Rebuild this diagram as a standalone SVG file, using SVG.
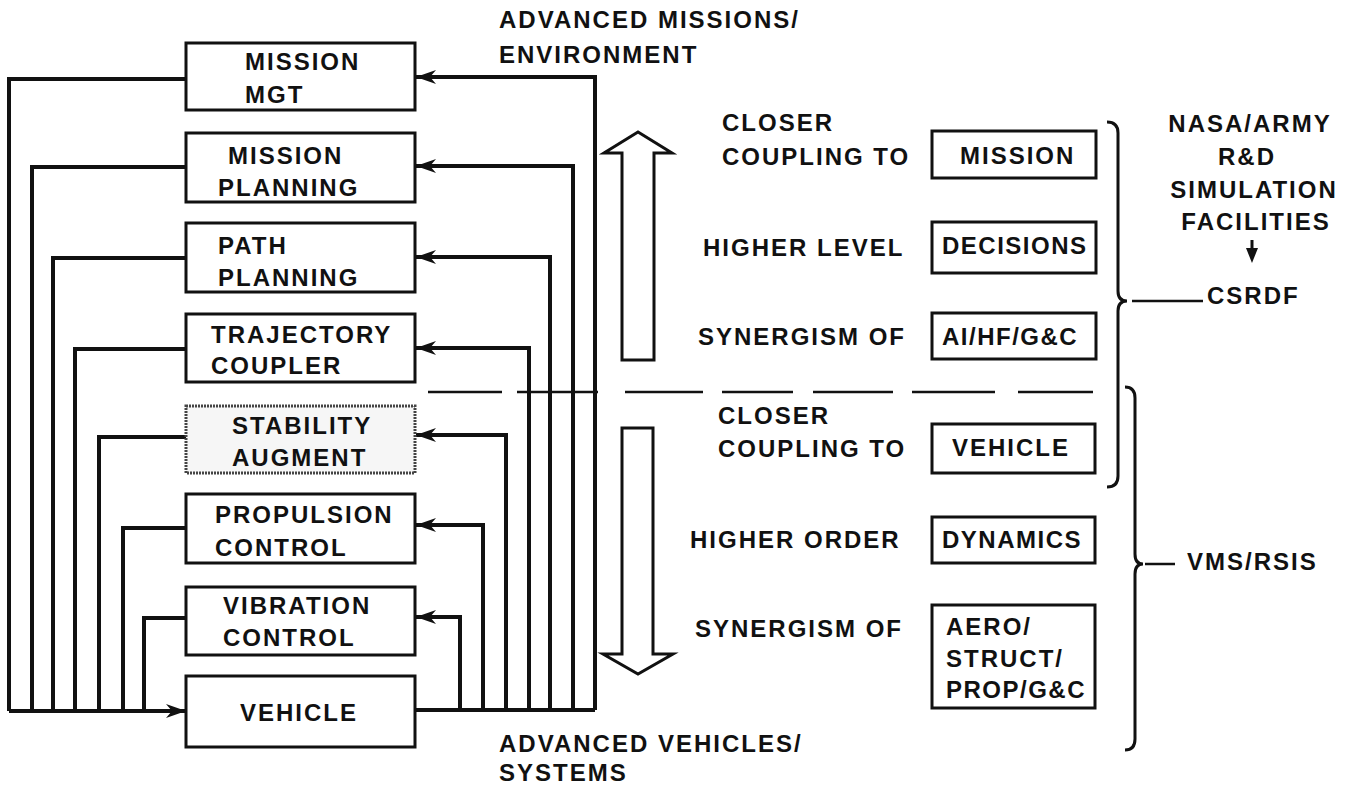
<svg xmlns="http://www.w3.org/2000/svg" width="1354" height="786" viewBox="0 0 1354 786">
<defs>
<style>
text{font-family:"Liberation Sans",Arial,sans-serif;font-weight:bold;font-size:24px;letter-spacing:2px;fill:#111}
.box{fill:#fff;stroke:#111;stroke-width:3}
.dotbox{fill:#f6f6f6;stroke:#444;stroke-width:3;stroke-dasharray:2 1}
.wire{fill:none;stroke:#111;stroke-width:4}
.thin{fill:none;stroke:#111;stroke-width:3}
.mid{text-anchor:middle}
</style>
<marker id="ah" markerUnits="userSpaceOnUse" markerWidth="22" markerHeight="18" refX="20" refY="9" orient="auto">
<path d="M0,2 L20,9 L0,16 L6,9 z" fill="#111"/>
</marker>
</defs>
<rect width="1354" height="786" fill="#fff"/>

<g id="connectors">
<path class="wire" d="M186,79 H9 V711"/>
<path class="wire" d="M186,167 H32 V711"/>
<path class="wire" d="M186,258 H53 V711"/>
<path class="wire" d="M186,349 H75 V711"/>
<path class="wire" d="M186,437 H99 V711"/>
<path class="wire" d="M186,528 H123 V711"/>
<path class="wire" d="M186,618 H144 V711"/>
<path class="wire" d="M9,711 H186" marker-end="url(#ah)"/>
<path class="wire" d="M415,710 H595"/>
<path class="wire" d="M595,710 V77 H416" marker-end="url(#ah)"/>
<path class="wire" d="M573,710 V166 H416" marker-end="url(#ah)"/>
<path class="wire" d="M550,710 V257 H416" marker-end="url(#ah)"/>
<path class="wire" d="M529,710 V348 H416" marker-end="url(#ah)"/>
<path class="wire" d="M506,710 V435 H416" marker-end="url(#ah)"/>
<path class="wire" d="M483,710 V525 H416" marker-end="url(#ah)"/>
<path class="wire" d="M460,710 V617 H416" marker-end="url(#ah)"/>
</g>

<g id="n-mission-mgt"><rect class="box" x="186" y="43" width="229" height="67"/><text x="245" y="70">MISSION</text><text x="245" y="103">MGT</text></g>
<g id="n-mission-planning"><rect class="box" x="186" y="133" width="229" height="69"/><text x="228" y="164">MISSION</text><text x="218" y="196">PLANNING</text></g>
<g id="n-path-planning"><rect class="box" x="186" y="223" width="229" height="69"/><text x="218" y="254">PATH</text><text x="218" y="286">PLANNING</text></g>
<g id="n-trajectory"><rect class="box" x="186" y="314" width="229" height="68"/><text x="211" y="343">TRAJECTORY</text><text x="211" y="374">COUPLER</text></g>
<g id="n-stability"><rect class="dotbox" x="186" y="406" width="229" height="67"/><text x="232" y="434">STABILITY</text><text x="232" y="466">AUGMENT</text></g>
<g id="n-propulsion"><rect class="box" x="186" y="494" width="229" height="69"/><text x="215" y="523">PROPULSION</text><text x="215" y="556">CONTROL</text></g>
<g id="n-vibration"><rect class="box" x="186" y="587" width="229" height="68"/><text x="223" y="614">VIBRATION</text><text x="223" y="646">CONTROL</text></g>
<g id="n-vehicle"><rect class="box" x="186" y="676" width="229" height="71"/><text x="240" y="721">VEHICLE</text></g>

<g id="labels-top-bottom">
<text x="499" y="28">ADVANCED MISSIONS/</text>
<text x="499" y="63">ENVIRONMENT</text>
<text x="499" y="752">ADVANCED VEHICLES/</text>
<text x="499" y="781">SYSTEMS</text>
</g>

<g id="big-arrows">
<polygon class="thin" fill="#fff" points="622,360 622,153 604,153 638,132 672,153 654,153 654,360"/>
<polygon class="thin" fill="#fff" points="622,428 653,428 653,654 673,654 638,674 603,654 622,654"/>
</g>

<g id="divider">
<path fill="none" stroke="#111" stroke-width="2.5" d="M428,392 H502 M517,392 H598 M625,392 H703 M722,392 H793 M813,392 H893 M912,392 H995 M1018,392 H1093"/>
</g>

<g id="upper-list">
<text x="722" y="131">CLOSER</text>
<text x="722" y="165">COUPLING TO</text>
<text x="703" y="256">HIGHER LEVEL</text>
<text x="698" y="345">SYNERGISM OF</text>
</g>
<g id="r-mission"><rect class="box" x="932" y="131" width="164" height="47"/><text x="960" y="164">MISSION</text></g>
<g id="r-decisions"><rect class="box" x="932" y="222" width="164" height="51"/><text x="942" y="254" style="letter-spacing:1.5px">DECISIONS</text></g>
<g id="r-aihf"><rect class="box" x="932" y="313" width="164" height="46"/><text x="942" y="345" style="letter-spacing:1.5px">AI/HF/G&amp;C</text></g>

<g id="lower-list">
<text x="718" y="424">CLOSER</text>
<text x="718" y="457">COUPLING TO</text>
<text x="690" y="548">HIGHER ORDER</text>
<text x="695" y="637">SYNERGISM OF</text>
</g>
<g id="r-vehicle"><rect class="box" x="932" y="424" width="163" height="49"/><text x="952" y="456">VEHICLE</text></g>
<g id="r-dynamics"><rect class="box" x="932" y="517" width="163" height="46"/><text x="942" y="548" style="letter-spacing:1.5px">DYNAMICS</text></g>
<g id="r-aero"><rect class="box" x="932" y="605" width="163" height="103"/><text x="946" y="635">AERO/</text><text x="946" y="667">STRUCT/</text><text x="946" y="698" style="letter-spacing:1.5px">PROP/G&amp;C</text></g>

<g id="csrdf">
<path class="thin" d="M1107,122 Q1118,122 1118,133 V291 Q1118,301 1127,301 Q1118,301 1118,311 V476 Q1118,487 1107,487"/>
<path fill="none" stroke="#111" stroke-width="2.5" d="M1132,301 H1203"/>
<text x="1207" y="304">CSRDF</text>
<text class="mid" x="1250" y="132">NASA/ARMY</text>
<text class="mid" x="1247" y="165">R&amp;D</text>
<text class="mid" x="1254" y="198">SIMULATION</text>
<text class="mid" x="1256" y="230">FACILITIES</text>
<path fill="none" stroke="#111" stroke-width="3" d="M1252,240 V251"/>
<polygon points="1246,248 1258,248 1252,263" fill="#111"/>
</g>

<g id="vms">
<path class="thin" d="M1125,387 Q1135,387 1135,398 V554 Q1135,564 1143,564 Q1135,564 1135,574 V739 Q1135,750 1125,750"/>
<path fill="none" stroke="#111" stroke-width="2.5" d="M1145,564 H1175"/>
<text x="1187" y="570">VMS/RSIS</text>
</g>
</svg>
